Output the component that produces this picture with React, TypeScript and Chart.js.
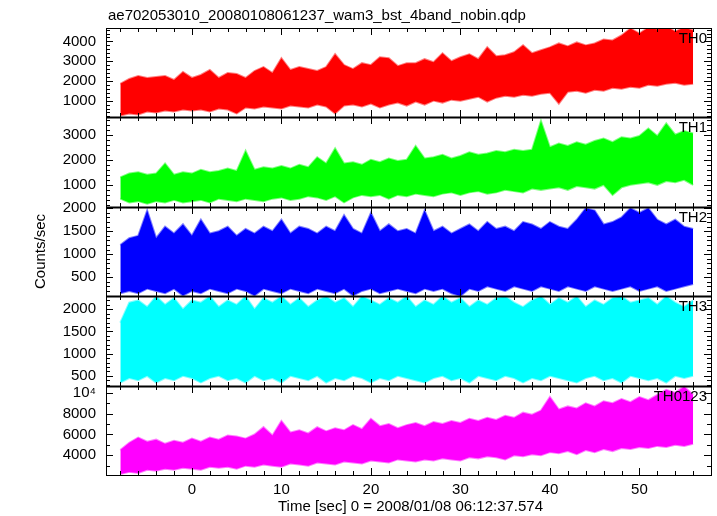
import React, { useEffect, useRef } from 'react';
import { Chart, registerables } from 'chart.js';

Chart.register(...registerables);

const TITLE = 'ae702053010_20080108061237_wam3_bst_4band_nobin.qdp';
const X_TITLE = 'Time [sec] 0 = 2008/01/08 06:12:37.574';
const Y_TITLE = 'Counts/sec';

const TIMES = [
  -8, -7, -6, -5, -4, -3, -2, -1, 0, 1, 2, 3, 4, 5, 6, 7, 8, 9, 10, 11, 12, 13, 14, 15, 16, 17, 18, 19, 20,
  21, 22, 23, 24, 25, 26, 27, 28, 29, 30, 31, 32, 33, 34, 35, 36, 37, 38, 39, 40, 41, 42, 43, 44, 45, 46,
  47, 48, 49, 50, 51, 52, 53, 54, 55, 56,
];

// Upper / lower envelope of each light curve, read per second from the picture
const TH0_HI = [
  1850, 2100, 2250, 2150, 2200, 2250, 2050, 2450, 2150, 2300, 2550, 2150, 2400, 2350, 2150, 2500, 2700, 2400,
  3150, 2550, 2700, 2600, 2500, 2700, 3350, 2800, 2600, 2900, 2800, 3200, 3150, 2750, 2900, 2900, 3100, 2950,
  3400, 3000, 3200, 3350, 3100, 3700, 3250, 3300, 3450, 3800, 3400, 3550, 3700, 3900, 3750, 3950, 3800, 3900,
  4100, 4050, 4300, 4650, 4400, 4700, 4600, 4750, 4500, 4700, 4550,
];
const TH0_LO = [
  250, 350, 300, 450, 400, 500, 450, 550, 500, 550, 450, 600, 550, 350, 650, 600, 700, 650, 600, 750, 700, 650,
  800, 700, 350, 750, 800, 700, 850, 650, 800, 900, 750, 950, 800, 1000, 900, 1050, 1000, 1100, 1200, 950, 1150,
  1250, 1200, 1300, 1250, 1350, 1400, 850, 1450, 1500, 1400, 1550, 1500, 1650, 1600, 1700, 1650, 1800, 1750,
  1850, 1900, 1800, 1850,
];
const TH1_HI = [
  1300, 1450, 1500, 1400, 1450, 1850, 1400, 1500, 1450, 1600, 1500, 1550, 1650, 1550, 2350, 1600, 1700, 1650,
  1750, 1650, 1800, 1700, 2100, 1850, 2450, 1850, 1900, 1800, 2000, 1900, 2050, 1950, 2000, 2550, 2050, 2100,
  2200, 2050, 2150, 2300, 2200, 2250, 2350, 2300, 2400, 2350, 2400, 3550, 2500, 2650, 2550, 2700, 2600, 2750,
  2850, 2700, 2900, 2850, 2950, 3250, 2950, 3450, 3000, 3150, 3050,
];
const TH1_LO = [
  450, 300, 350, 250, 350, 300, 400, 300, 350, 400, 300, 450, 400, 350, 450, 400, 350, 450, 500, 400, 450, 550,
  500, 400, 550, 300, 500, 600, 550, 600, 450, 600, 550, 650, 600, 550, 650, 700, 600, 700, 750, 650, 700, 800,
  750, 700, 850, 800, 850, 900, 800, 950, 900, 850, 1000, 600, 900, 1000, 1050, 1100, 1000, 1150, 1100, 1200,
  1000,
];
const TH2_HI = [
  1200, 1350, 1400, 1950, 1350, 1600, 1450, 1650, 1400, 1750, 1450, 1500, 1600, 1400, 1550, 1450, 1600, 1500,
  1750, 1450, 1600, 1550, 1450, 1600, 1500, 1850, 1550, 1450, 1900, 1500, 1650, 1500, 1550, 1450, 1950, 1500,
  1600, 1450, 1550, 1650, 1500, 1700, 1550, 1600, 1500, 1700, 1650, 1550, 1700, 1600, 1550, 1750, 2000, 1950,
  1650, 1700, 1800, 2000, 1900, 2000, 1750, 1650, 1750, 1600, 1550,
];
const TH2_LO = [
  150, 200, 150, 250, 200, 150, 250, 100, 200, 150, 250, 200, 150, 250, 200, 100, 250, 200, 150, 250, 200, 150,
  250, 200, 150, 250, 100, 200, 250, 150, 200, 250, 200, 150, 250, 200, 250, 150, 90, 250, 200, 300, 250, 200,
  300, 250, 200, 300, 250, 200, 300, 250, 200, 300, 250, 200, 250, 300, 200, 250, 300, 200, 250, 300, 350,
];
const TH3_HI = [
  1700, 2150, 2200, 2050, 2290, 2100, 2250, 2000, 2200, 2150, 2290, 2050, 2200, 2100, 2290, 2000, 2250, 2150,
  2290, 2100, 2250, 2050, 2200, 2290, 2150, 2250, 2050, 2290, 2200, 2100, 2250, 2150, 2290, 2050, 2200, 2100,
  2290, 2150, 2250, 2050, 2200, 2100, 2250, 2290, 2150, 2050, 2200, 2290, 2100, 2250, 2150, 2290, 2050, 2200,
  2100, 2250, 2290, 2150, 2200, 2250, 2100, 2290, 2150, 2050, 2200,
];
const TH3_LO = [
  350, 450, 400, 500, 350, 450, 400, 500, 450, 350, 450, 500, 400, 450, 350, 500, 400, 450, 350, 500, 450, 400,
  500, 350, 450, 400, 500, 450, 350, 450, 400, 500, 450, 400, 350, 450, 500, 400, 450, 350, 500, 450, 400, 500,
  450, 350, 450, 400, 500, 450, 400, 350, 450, 500, 400, 450, 350, 500, 450, 400, 450, 350, 500, 450, 500,
];
const TH0123_HI = [
  4500, 5200, 5700, 5300, 5500, 5100, 5400, 5200, 5600, 5300, 5700, 5500, 5900, 5800, 5600, 6000, 6700, 5900,
  7300, 6200, 6400, 6100, 6700, 6300, 6600, 6400, 6900, 6500, 7500, 6800, 7000, 6600, 6900, 7100, 6800, 7200,
  7000, 7300, 7100, 7500, 7300, 7600, 7400, 7800, 7600, 8100, 7900, 8300, 9600, 8400, 8700, 8500, 9000, 8700,
  9200, 9000, 9400, 9100, 9600, 9300, 9800, 10300, 10000, 10600, 9800,
];
const TH0123_LO = [
  2200, 2400, 2300, 2600, 2500, 2700, 2600, 2800, 2700, 2600, 2900, 2800, 2900, 2700, 3000, 2900, 3100, 3000,
  2900, 3200, 3100, 3000, 3300, 3200, 3100, 3400, 3300, 3200, 3500, 3400, 3300, 3600, 3500, 3400, 3600, 3500,
  3700, 3600, 3500, 3800, 3700, 3900, 3800, 3600, 4000, 3900, 4100, 4000, 4300, 4200, 4400, 4100, 4500, 4300,
  4600, 4400, 4700, 4600, 4800, 4700, 4900, 4800, 5000, 4900, 5100,
];

const PANEL_NAMES = ['TH0', 'TH1', 'TH2', 'TH3', 'TH0123'];
const PANEL_HI = [TH0_HI, TH1_HI, TH2_HI, TH3_HI, TH0123_HI];
const PANEL_LO = [TH0_LO, TH1_LO, TH2_LO, TH3_LO, TH0123_LO];
const PANEL_COLORS = ['#ff0000', '#00ff00', '#0000ff', '#00ffff', '#ff00ff'];
const PANEL_EDGES = [
  'rgba(255,0,0,0.5)',
  'rgba(0,255,0,0.5)',
  'rgba(0,0,255,0.5)',
  'rgba(0,255,255,0.5)',
  'rgba(255,0,255,0.5)',
];
const Y_MIN = [150, 125, 85, 280, 2100];
const Y_MAX = [4680, 3690, 2033, 2295, 10700];
const Y_TICKS = [
  [1000, 2000, 3000, 4000],
  [1000, 2000, 3000],
  [500, 1000, 1500, 2000],
  [500, 1000, 1500, 2000],
  [4000, 6000, 8000, 10000],
];
const Y_MINOR = [200, 200, 100, 100, 1000];
const Y_MAJOR = [1000, 1000, 500, 500, 2000];
const X_MIN = -9.6;
const X_MAX = 58.0;
const X_TICKS = [0, 10, 20, 30, 40, 50];
const X_MINOR = 2;
const X_MAJOR = 10;

const FONT = '"Liberation Sans", Arial, Helvetica, sans-serif';

function yLabel(v: number): string {
  if (v === 10000) return '10\u2074';
  return String(v);
}

const qdpPlugin = {
  id: 'qdpFrame',
  afterDraw(chart: any) {
    const ctx = chart.ctx as CanvasRenderingContext2D;
    const xs = chart.scales.x;
    const L = Math.round(chart.chartArea.left);
    const R = Math.round(chart.chartArea.right);
    ctx.save();
    ctx.strokeStyle = '#000';
    ctx.fillStyle = '#000';
    PANEL_NAMES.forEach((name, i) => {
      const ys = chart.scales['y' + i];
      const T = Math.round(ys.top);
      const B = Math.round(ys.bottom);
      ctx.lineWidth = 1;
      ctx.strokeRect(L + 0.5, T + 0.5, R - L, B - T);
      ctx.beginPath();
      for (let v = Math.ceil(X_MIN / X_MINOR) * X_MINOR; v <= X_MAX; v += X_MINOR) {
        const px = Math.round(xs.getPixelForValue(v)) + 0.5;
        const len = v % X_MAJOR === 0 ? 7 : 4;
        ctx.moveTo(px, T);
        ctx.lineTo(px, T + len);
        ctx.moveTo(px, B);
        ctx.lineTo(px, B - len);
      }
      const mn = Y_MINOR[i];
      for (let v = Math.ceil(Y_MIN[i] / mn) * mn; v <= Y_MAX[i]; v += mn) {
        const py = Math.round(ys.getPixelForValue(v)) + 0.5;
        const len = v % Y_MAJOR[i] === 0 ? 7 : 4;
        ctx.moveTo(L, py);
        ctx.lineTo(L + len, py);
        ctx.moveTo(R, py);
        ctx.lineTo(R - len, py);
      }
      ctx.stroke();
      if (i > 0) {
        ctx.lineWidth = 2;
        ctx.beginPath();
        ctx.moveTo(L, T + 0.5);
        ctx.lineTo(R + 1, T + 0.5);
        ctx.stroke();
      }
      ctx.font = `15px ${FONT}`;
      ctx.textAlign = 'right';
      ctx.textBaseline = 'alphabetic';
      ctx.fillText(name, R - 4, T + 15);
    });
    ctx.font = `15px ${FONT}`;
    ctx.textAlign = 'left';
    ctx.textBaseline = 'alphabetic';
    ctx.fillText(TITLE, 108, 20);
    ctx.textAlign = 'center';
    ctx.textBaseline = 'middle';
    ctx.fillText(X_TITLE, (L + R) / 2 + 2, 507);
    const top = chart.chartArea.top;
    const bottom = chart.chartArea.bottom;
    ctx.translate(41, (top + bottom) / 2);
    ctx.rotate(-Math.PI / 2);
    ctx.fillText(Y_TITLE, 0, 0);
    ctx.restore();
  },
};

export default function App() {
  const ref = useRef<HTMLCanvasElement | null>(null);

  useEffect(() => {
    if (!ref.current) return;
    const datasets: any[] = [];
    PANEL_NAMES.forEach((name, i) => {
      const c = PANEL_COLORS[i];
      datasets.push({
        label: name + ' max',
        data: TIMES.map((t, k) => ({ x: t, y: PANEL_HI[i][k] })),
        yAxisID: 'y' + i,
        borderColor: PANEL_EDGES[i],
        backgroundColor: c,
        borderWidth: 2,
        pointRadius: 0,
        tension: 0,
        fill: '+1',
      });
      datasets.push({
        label: name + ' min',
        data: TIMES.map((t, k) => ({ x: t, y: PANEL_LO[i][k] })),
        yAxisID: 'y' + i,
        borderColor: PANEL_EDGES[i],
        backgroundColor: c,
        borderWidth: 2,
        pointRadius: 0,
        tension: 0,
        fill: false,
      });
    });

    const scales: any = {
      x: {
        type: 'linear',
        position: 'bottom',
        min: X_MIN,
        max: X_MAX,
        grid: { display: false, drawTicks: false },
        border: { display: false },
        afterBuildTicks: (s: any) => {
          s.ticks = X_TICKS.map((v) => ({ value: v }));
        },
        afterFit: (s: any) => {
          s.height = 41;
        },
        ticks: {
          autoSkip: false,
          maxRotation: 0,
          padding: 6,
          color: '#000',
          font: { family: FONT, size: 15 },
          callback: (v: any) => String(v),
        },
      },
    };
    PANEL_NAMES.forEach((_, i) => {
      scales['y' + i] = {
        type: 'linear',
        position: 'left',
        stack: 'panels',
        stackWeight: 1,
        weight: 5 - i,
        min: Y_MIN[i],
        max: Y_MAX[i],
        grid: { display: false, drawTicks: false },
        border: { display: false },
        afterBuildTicks: (s: any) => {
          s.ticks = Y_TICKS[i].map((v) => ({ value: v }));
        },
        afterFit: (s: any) => {
          s.width = 106;
        },
        ticks: {
          autoSkip: false,
          padding: 10,
          color: '#000',
          font: { family: FONT, size: 15 },
          callback: (v: any) => yLabel(Number(v)),
        },
      };
    });

    const chart = new Chart(ref.current, {
      type: 'line',
      data: { datasets },
      options: {
        animation: false,
        responsive: false,
        devicePixelRatio: 1,
        layout: { padding: { left: 0, right: 6, top: 28, bottom: 0 } },
        plugins: {
          legend: { display: false },
          tooltip: { enabled: false },
          title: { display: false },
        },
        scales,
      } as any,
      plugins: [qdpPlugin as any],
    });
    return () => chart.destroy();
  }, []);

  return (
    <div style={{ position: 'absolute', left: 0, top: 0, width: 717, height: 516, background: '#fff' }}>
      <canvas ref={ref} width={717} height={516} style={{ display: 'block' }} />
    </div>
  );
}
